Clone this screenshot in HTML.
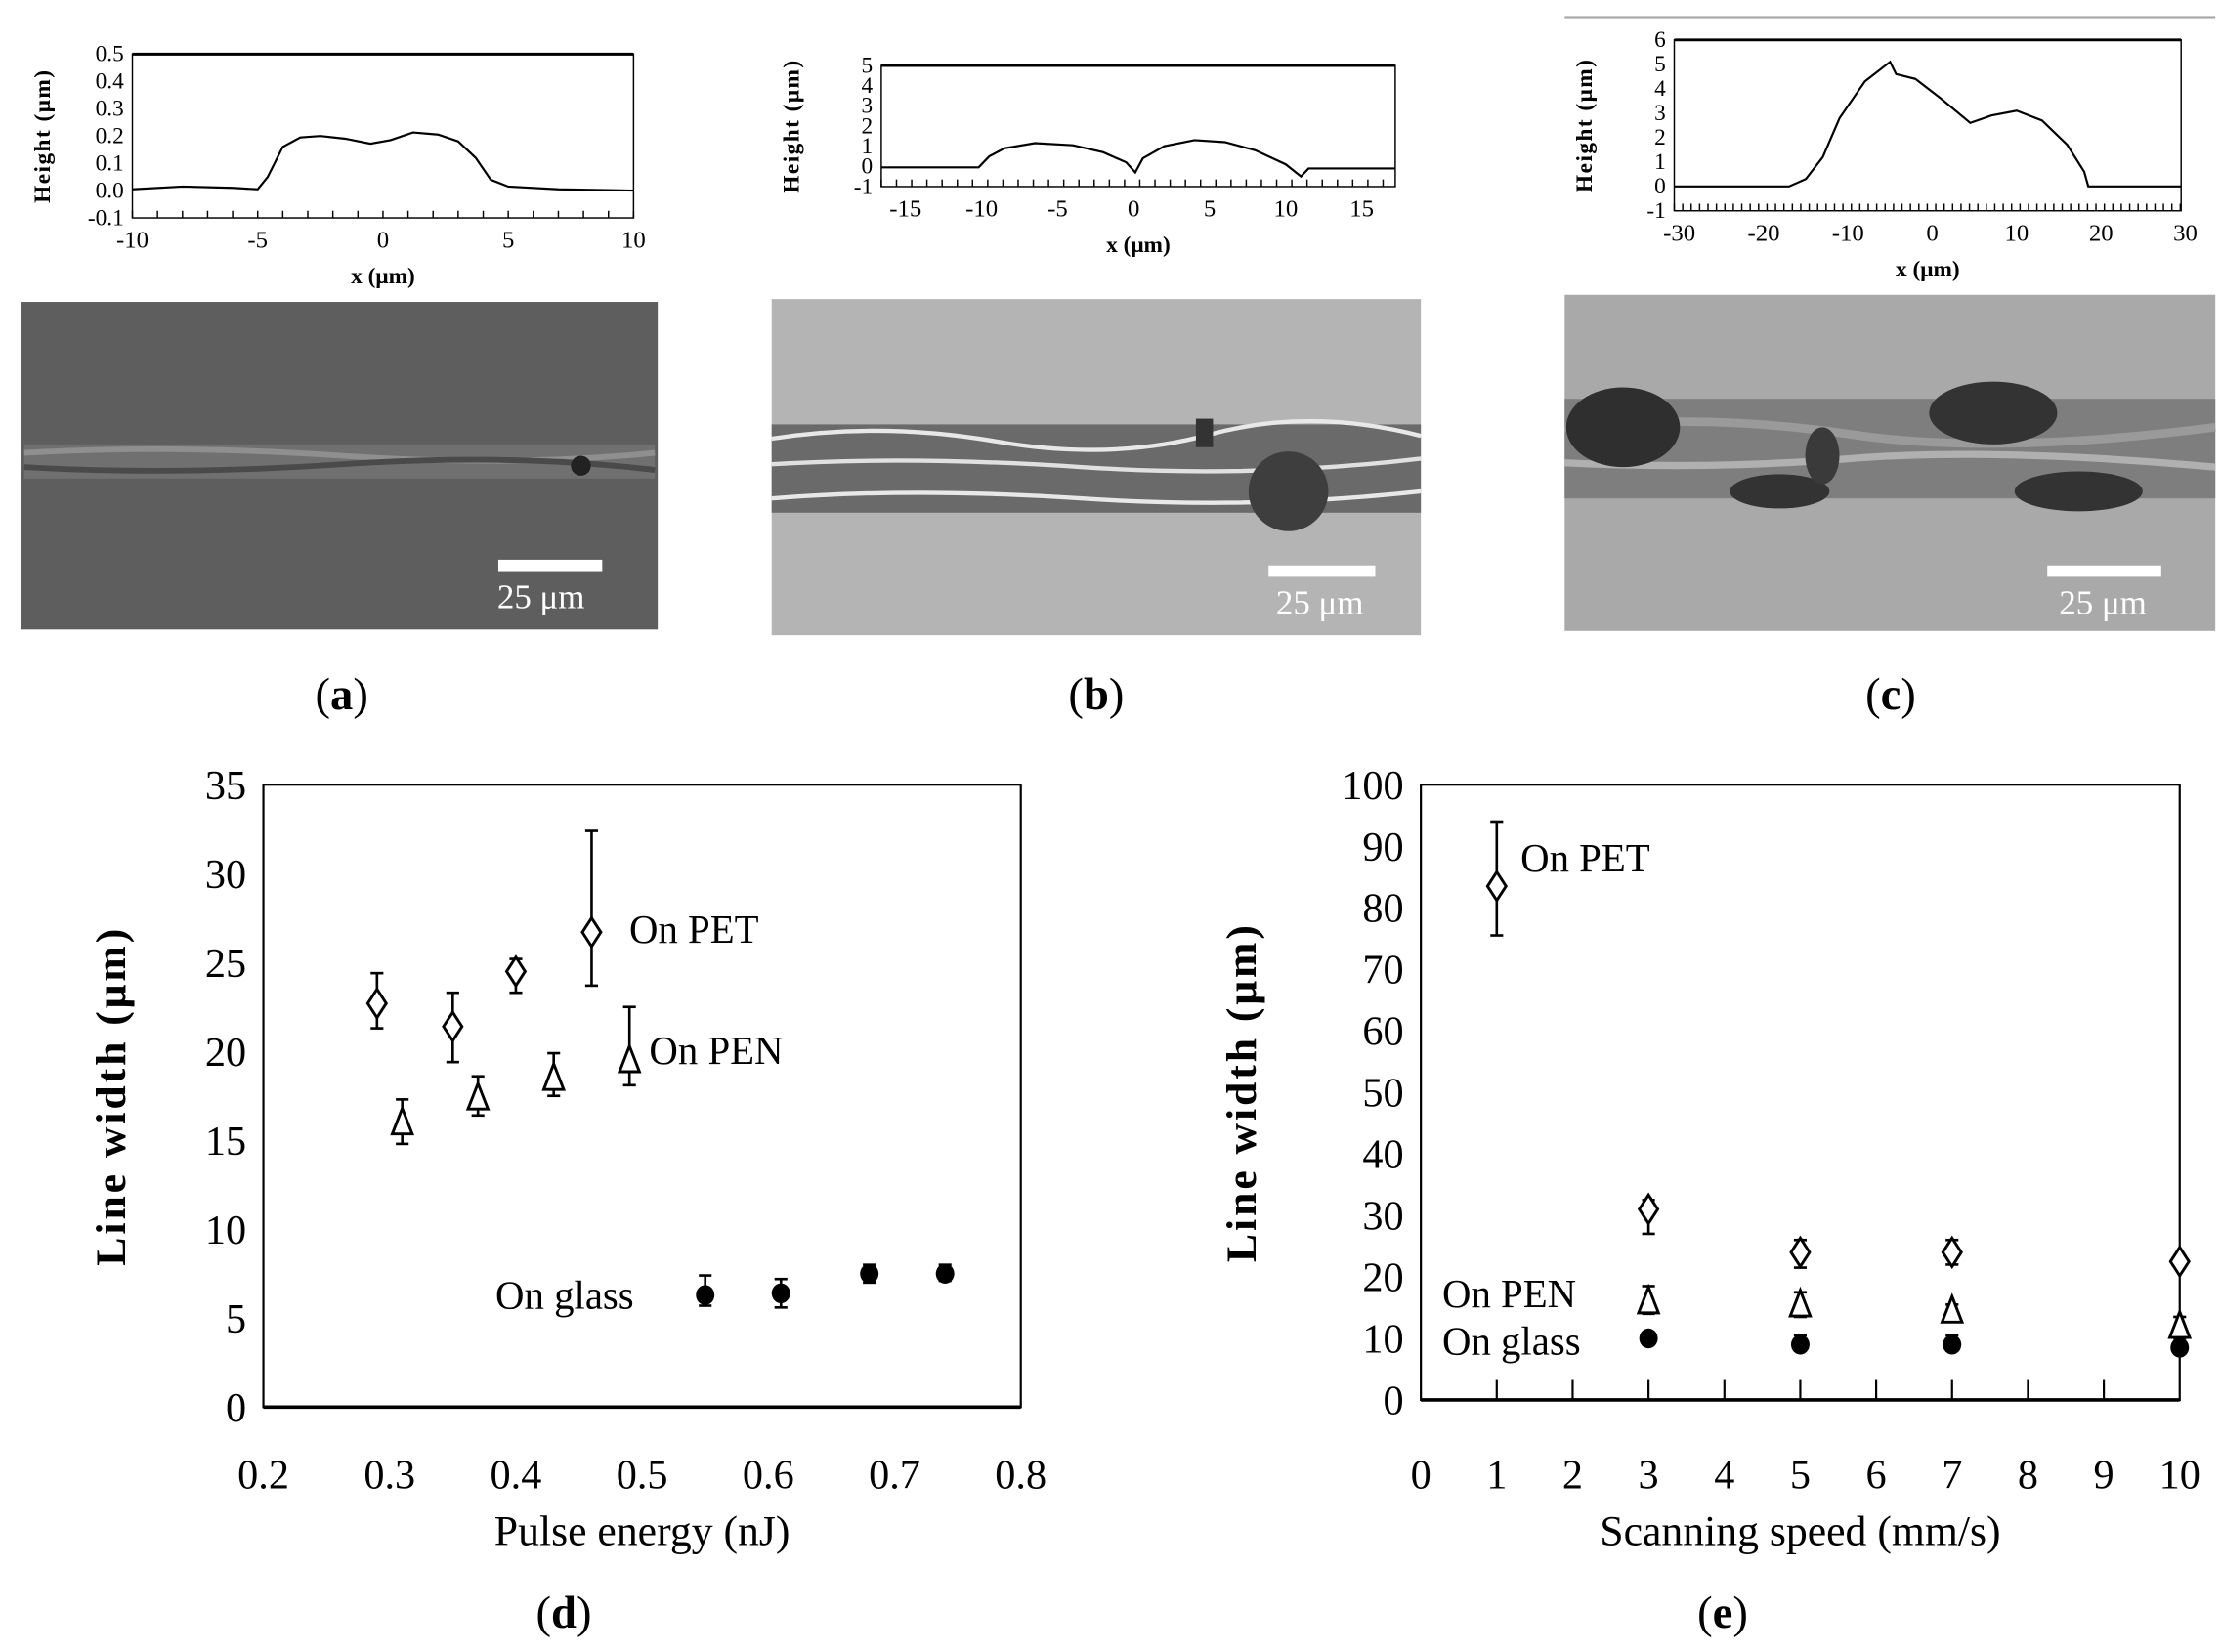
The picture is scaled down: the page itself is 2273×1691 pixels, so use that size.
<!DOCTYPE html>
<html><head><meta charset="utf-8">
<style>
html,body{margin:0;padding:0;background:#fff;}
svg{display:block;}
text{font-family:"Liberation Serif","DejaVu Serif",serif;fill:#000;}
</style></head>
<body>
<svg id="s" width="2273" height="1691" viewBox="0 0 1560 1160" preserveAspectRatio="none" xmlns="http://www.w3.org/2000/svg">
<rect width="1560" height="1160" fill="#fff"/>
<rect x="15" y="212" width="447" height="230" fill="#5e5e5e"/>
<rect x="17" y="312" width="443" height="24" fill="#707070"/>
<path d="M17 318 Q120 312 240 320 T460 318" stroke="#8f8f8f" stroke-width="4" fill="none"/>
<path d="M17 328 Q120 334 240 326 T460 330" stroke="#4a4a4a" stroke-width="4" fill="none"/>
<circle cx="408" cy="327" r="7" fill="#222"/>
<rect x="350" y="393" width="73" height="8" fill="#fff"/>
<text x="380" y="427" font-size="24" text-anchor="middle" style="fill:#fff">25 μm</text>

<rect x="542" y="210" width="456" height="236" fill="#b4b4b4"/>
<rect x="542" y="298" width="456" height="62" fill="#6a6a6a"/>
<path d="M542 308 Q620 296 700 310 T850 305 T998 306" stroke="#e8e8e8" stroke-width="3" fill="none"/>
<path d="M542 326 Q640 320 760 328 T998 322" stroke="#e0e0e0" stroke-width="3" fill="none"/>
<path d="M542 350 Q640 342 760 350 T998 345" stroke="#e8e8e8" stroke-width="3" fill="none"/>
<ellipse cx="905" cy="345" rx="28" ry="28" fill="#3e3e3e"/>
<rect x="840" y="294" width="12" height="20" fill="#333"/>
<rect x="891" y="397" width="75" height="8" fill="#fff"/>
<text x="927" y="431" font-size="24" text-anchor="middle" style="fill:#fff">25 μm</text>

<line x1="1099" y1="12" x2="1556" y2="12" stroke="#aaa" stroke-width="1.5"/>
<rect x="1099" y="207" width="457" height="236" fill="#a9a9a9"/>
<rect x="1099" y="280" width="457" height="70" fill="#7e7e7e"/>
<path d="M1099 300 Q1200 290 1300 305 T1556 300" stroke="#9a9a9a" stroke-width="6" fill="none"/>
<path d="M1099 325 Q1200 330 1300 322 T1556 328" stroke="#b0b0b0" stroke-width="5" fill="none"/>
<ellipse cx="1140" cy="300" rx="40" ry="28" fill="#2f2f2f"/>
<ellipse cx="1400" cy="290" rx="45" ry="22" fill="#333"/>
<ellipse cx="1250" cy="345" rx="35" ry="12" fill="#333"/>
<ellipse cx="1460" cy="345" rx="45" ry="14" fill="#333"/>
<ellipse cx="1280" cy="320" rx="12" ry="20" fill="#3a3a3a"/>
<rect x="1438" y="397" width="80" height="8" fill="#fff"/>
<text x="1477" y="431" font-size="24" text-anchor="middle" style="fill:#fff">25 μm</text>

<g id="g"></g>

<text x="240" y="498" font-size="32" text-anchor="middle">(<tspan font-weight="bold">a</tspan>)</text>
<text x="770" y="498" font-size="32" text-anchor="middle">(<tspan font-weight="bold">b</tspan>)</text>
<text x="1328" y="498" font-size="32" text-anchor="middle">(<tspan font-weight="bold">c</tspan>)</text>
<text x="396" y="1143" font-size="32" text-anchor="middle">(<tspan font-weight="bold">d</tspan>)</text>
<text x="1210" y="1143" font-size="32" text-anchor="middle">(<tspan font-weight="bold">e</tspan>)</text>
</svg>
<script>
var G=document.getElementById('g'),h='';
function L(x1,y1,x2,y2,w){h+='<line x1="'+x1+'" y1="'+y1+'" x2="'+x2+'" y2="'+y2+'" stroke="#000" stroke-width="'+(w||1)+'"/>';}
function T(x,y,s,fs,a,extra){h+='<text x="'+x+'" y="'+y+'" font-size="'+fs+'" text-anchor="'+(a||'middle')+'" '+(extra||'')+'>'+s+'</text>';}
function small(o){
 var X=function(v){return o.x0+(v-o.xmin)/(o.xmax-o.xmin)*(o.x1-o.x0)};
 var Y=function(v){return o.y1-(v-o.ymin)/(o.ymax-o.ymin)*(o.y1-o.y0)};
 h+='<rect x="'+o.x0+'" y="'+o.y0+'" width="'+(o.x1-o.x0)+'" height="'+(o.y1-o.y0)+'" fill="none" stroke="#000" stroke-width="1"/>';
 L(o.x0,o.y0,o.x1,o.y0,2);
 o.yt.forEach(function(v){T(o.x0-6,Y(v)+5,o.dec?v.toFixed(1):v,16,'end');});
 o.xt.forEach(function(v){T(X(v),o.y1+21,v,17);});
 for(var v=o.xmin;v<=o.xmax+1e-9;v+=o.mt){L(X(v),o.y1,X(v),o.y1-5);}
 var p='';o.pts.forEach(function(q,i){p+=(i?'L':'M')+X(q[0]).toFixed(1)+' '+Y(q[1]).toFixed(1);});
 h+='<path d="'+p+'" fill="none" stroke="#000" stroke-width="1.5"/>';
 T((o.x0+o.x1)/2,o.y1+46,'x (μm)',16,'middle','font-weight="bold"');
 h+='<text transform="translate('+(o.x0-58)+','+((o.y0+o.y1)/2)+') rotate(-90)" font-size="16" text-anchor="middle" font-weight="bold" letter-spacing="1">Height (μm)</text>';
}
small({x0:93,x1:445,y0:38,y1:153,xmin:-10,xmax:10,ymin:-0.1,ymax:0.5,dec:1,yt:[0.5,0.4,0.3,0.2,0.1,0,-0.1],xt:[-10,-5,0,5,10],mt:1,
 pts:[[-10,0.005],[-8,0.015],[-6,0.01],[-5,0.005],[-4.6,0.05],[-4,0.16],[-3.3,0.195],[-2.5,0.2],[-1.5,0.19],[-0.5,0.172],[0.3,0.185],[1.2,0.213],[2.2,0.205],[3,0.18],[3.7,0.12],[4.3,0.04],[5,0.015],[7,0.005],[10,0]]});
small({x0:619,x1:980,y0:46,y1:131,xmin:-16.6,xmax:17.2,ymin:-1,ymax:5,yt:[5,4,3,2,1,0,-1],xt:[-15,-10,-5,0,5,10,15],mt:1,
 pts:[[-16.6,-0.05],[-10.2,-0.05],[-9.5,0.5],[-8.5,0.9],[-6.5,1.15],[-4,1.05],[-2,0.7],[-0.5,0.2],[0.1,-0.3],[0.6,0.4],[2,1.0],[4,1.3],[6,1.2],[8,0.8],[10,0.1],[11,-0.5],[11.5,-0.1],[17.2,-0.1]]});
small({x0:1176,x1:1532,y0:28,y1:148,xmin:-30.6,xmax:29.5,ymin:-1,ymax:6,yt:[6,5,4,3,2,1,0,-1],xt:[-30,-20,-10,0,10,20,30],mt:1,
 pts:[[-30.6,0],[-17,0],[-15,0.3],[-13,1.2],[-11,2.8],[-8,4.3],[-5,5.1],[-4.3,4.6],[-2,4.4],[1,3.6],[4.5,2.6],[7,2.9],[10,3.1],[13,2.7],[16,1.7],[18,0.6],[18.5,0],[29.5,0]]});
function big(o){
 var X=function(v){return o.x0+(v-o.xmin)/(o.xmax-o.xmin)*(o.x1-o.x0)};
 var Y=function(v){return o.y1-(v-o.ymin)/(o.ymax-o.ymin)*(o.y1-o.y0)};
 h+='<rect x="'+o.x0+'" y="'+o.y0+'" width="'+(o.x1-o.x0)+'" height="'+(o.y1-o.y0)+'" fill="none" stroke="#000" stroke-width="1.5"/>';
 L(o.x0,o.y1,o.x1,o.y1,2.5);
 o.yt.forEach(function(v){T(o.x0-12,Y(v)+10,v,29,'end');});
 o.xt.forEach(function(v){T(X(v[0]),1045,v[1],29);});
 if(o.ticks)o.ticks.forEach(function(v){L(X(v),o.y1,X(v),o.y1-14,1.5);});
 T((o.x0+o.x1)/2,1085,o.xl,30);
 h+='<text transform="translate('+o.yx+','+((o.y0+o.y1)/2)+') rotate(-90)" font-size="30" text-anchor="middle" font-weight="bold" letter-spacing="2">Line width (μm)</text>';
 o.data.forEach(function(d){
  var x=X(d[1]),y=Y(d[2]);
  if(d[3]!=null){var a=Y(d[3]),b=Y(d[4]);L(x,a,x,b,1.8);L(x-4.5,a,x+4.5,a,1.8);L(x-4.5,b,x+4.5,b,1.8);}
  if(d[0]=='d')h+='<path d="M'+x+' '+(y-10)+'L'+(x+6.5)+' '+y+'L'+x+' '+(y+10)+'L'+(x-6.5)+' '+y+'Z" fill="#fff" stroke="#000" stroke-width="2"/>';
  else if(d[0]=='t')h+='<path d="M'+x+' '+(y-10)+'L'+(x+7)+' '+(y+8)+'L'+(x-7)+' '+(y+8)+'Z" fill="#fff" stroke="#000" stroke-width="2"/>';
  else h+='<ellipse cx="'+x+'" cy="'+y+'" rx="6.5" ry="7" fill="#000"/>';
 });
 o.lab.forEach(function(l){T(l[0],l[1],l[2],28,'start');});
}
big({x0:185,x1:717,y0:551,y1:988,xmin:0.2,xmax:0.8,ymin:0,ymax:35,yt:[35,30,25,20,15,10,5,0],yx:88,
 xt:[[0.2,'0.2'],[0.3,'0.3'],[0.4,'0.4'],[0.5,'0.5'],[0.6,'0.6'],[0.7,'0.7'],[0.8,'0.8']],xl:'Pulse energy (nJ)',
 data:[['d',0.29,22.7,21.3,24.4],['d',0.35,21.4,19.4,23.3],['d',0.40,24.5,23.3,25.2],['d',0.46,26.7,23.7,32.4],
 ['t',0.31,16,14.8,17.3],['t',0.37,17.4,16.4,18.6],['t',0.43,18.5,17.5,19.9],['t',0.49,19.5,18.1,22.5],
 ['c',0.55,6.3,5.7,7.4],['c',0.61,6.4,5.6,7.2],['c',0.68,7.5,7.0,8.0],['c',0.74,7.5,7.1,8.0]],
 lab:[[442,662,'On PET'],[456,747,'On PEN'],[348,919,'On glass']]});
big({x0:998,x1:1531,y0:551,y1:983,xmin:0,xmax:10,ymin:0,ymax:100,yt:[100,90,80,70,60,50,40,30,20,10,0],yx:882,
 xt:[0,1,2,3,4,5,6,7,8,9,10].map(function(v){return [v,''+v]}),xl:'Scanning speed (mm/s)',ticks:[1,2,3,4,5,6,7,8,9],
 data:[['d',1,83.5,75.5,94],['d',3,31,27,32.5],['d',5,24,21.5,26],['d',7,24,22,26],['d',10,22.5,null],
 ['t',3,16,14,18.5],['t',5,15.5,13.5,17.5],['t',7,14.5,13.5,15.5],['t',10,12,10,13.5],
 ['c',3,10,null],['c',5,9,8,10.5],['c',7,9,8,10.5],['c',10,8.5,7.5,9.5]],
 lab:[[1068,612,'On PET'],[1013,918,'On PEN'],[1013,951,'On glass']]});
G.innerHTML=h;
</script>
</body></html>
